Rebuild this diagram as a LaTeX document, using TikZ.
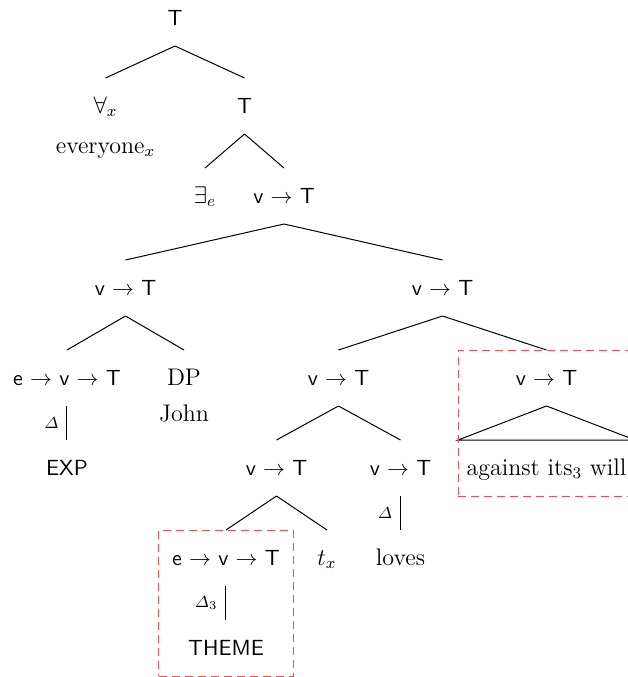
\documentclass[tikz,border=0pt,12pt]{standalone}
\usepackage{amsmath, amssymb}
\usepackage{tikz}
\usetikzlibrary{fit}
\definecolor{boxred}{RGB}{240,80,80}

\begin{document}
\begin{tikzpicture}[x=0.5pt,y=-0.5pt,line width=0.5pt,
tn/.style={text height=7pt,text depth=0pt,inner ysep=10.25pt},
every child node/.style={tn},
parent anchor=south,child anchor=north,
redbox/.style={draw=boxred,dash pattern=on 4pt off 2.5pt,inner ysep=0pt}]
\useasboundingbox (0,0) rectangle (628,677);
\node[tn](0) at (175,18){\small\textsf{T}}
child[level distance=44pt,sibling distance=69.5pt]{node[label={[label distance=0pt]below:everyone$_x$}]{$\forall_x$}}
child[level distance=44pt,sibling distance=69.5pt]{node{\small\textsf{T}} %%% HERE IS THE SECOND T %%%
child[level distance=45pt,sibling distance=39.5pt]{node{$\exists_e$}}
child[level distance=45pt,sibling distance=39.5pt]{node{\small\textsf{v $\to$ T}}
child[level distance=46pt,sibling distance=158.5pt]{node{\small\textsf{v $\to$ T}} %%% EXP SIDE %%%
child[level distance=45pt,sibling distance=58.5pt]{node{\small\textsf{e $\to$ v $\to$ T}}
child[level distance=45pt]{node{\small\textsf{EXP}} edge from parent node[left]{\scriptsize{$\varDelta$}}
}
}
child[level distance=45pt,sibling distance=58.5pt]{node[label={[label distance=-5pt]below:John}]{DP}
}
}
child[level distance=46pt,sibling distance=158.5pt]{node{\small\textsf{v $\to$ T}} %%% THEME SIDE %%%
child[level distance=45pt,sibling distance=104pt]{node{\small\textsf{v $\to$ T}}
child[level distance=45pt,sibling distance=62pt]{node{\small\textsf{v $\to$ T}}
child[level distance=45pt,sibling distance=50.5pt]{node(th){\small\textsf{e $\to$ v $\to$ T}}
child[level distance=45pt]{node(th-1){\small\textsf{THEME}} edge from parent node[left]{\scriptsize{$\varDelta_3$}}
}
}
child[level distance=45pt,sibling distance=50.5pt]{node{$t_x$}
}
}
child[level distance=45pt,sibling distance=62pt]{node{\small\textsf{v $\to$ T}}
child[level distance=45pt]{node{loves} edge from parent node[left]{\scriptsize{$\varDelta$}}
}
}
}
child[level distance=45pt,sibling distance=104pt]{node(wl){\small\textsf{v $\to$ T}}
child[level distance=45pt,edge from parent path={(\tikzparentnode.south) -- (\tikzchildnode.north west) -- (\tikzchildnode.north east) -- cycle}]{node(wl-1){against its$_3$ will}
}
}
}
}
}
;
\node[redbox,inner xsep=2.5pt,fit=(th)(th-1)](box1){};
\node[redbox,inner xsep=0pt,fit=(wl)(wl-1)](box2){};
\end{tikzpicture}
\end{document}
